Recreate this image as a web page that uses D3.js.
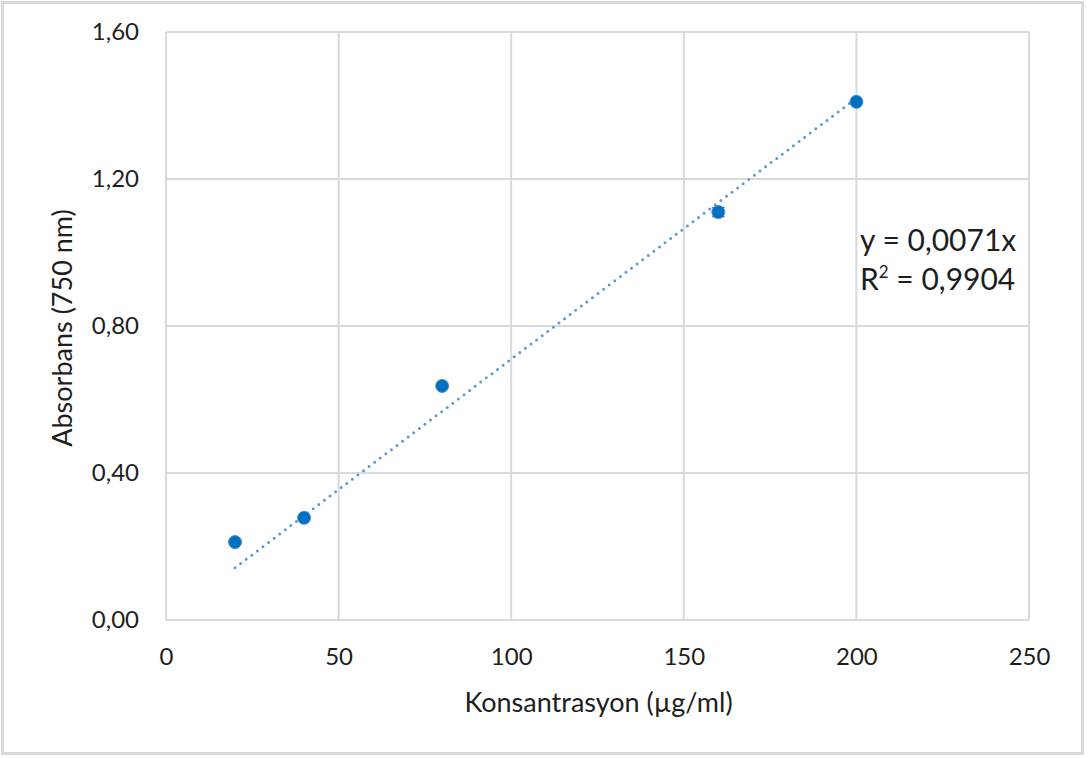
<!DOCTYPE html>
<html>
<head>
<meta charset="utf-8">
<script src="https://cdn.jsdelivr.net/npm/d3@7"></script>
<style>
  body { margin: 0; background: #fff; }
  text { font-family: Lato, "Open Sans", sans-serif; fill: #1e1e1e; }
</style>
</head>
<body>
<svg id="chart"></svg>
<script>
// concentration (x) and absorbance (y) readings
const concentrations = [20, 40, 80, 160, 200];
const absorbances = [0.212, 0.278, 0.637, 1.110, 1.410];
const errors = [0, 0, 0, 0.012, 0];
const slope = 0.0071;
const xTicks = [0, 50, 100, 150, 200, 250];
const yTicks = [0, 0.4, 0.8, 1.2, 1.6];
const equationLines = ['y = 0,0071x', 'R² = 0,9904'];

const width = 1088;
const height = 758;
const margin = { top: 32, right: 59, bottom: 138, left: 166 };
const innerW = width - margin.left - margin.right;
const innerH = height - margin.top - margin.bottom;

const svg = d3.select('#chart')
  .attr('width', width)
  .attr('height', height);

// outer chart border
svg.append('rect')
  .attr('x', 2.5).attr('y', 2.5)
  .attr('width', 1080).attr('height', 751)
  .attr('fill', '#fff')
  .attr('stroke', '#d9d9d9')
  .attr('stroke-width', 3);

const chart = svg.append('g')
  .attr('transform', `translate(${margin.left},${margin.top})`);

const x = d3.scaleLinear().domain([0, 250]).range([0, innerW]);
const y = d3.scaleLinear().domain([0, 1.6]).range([innerH, 0]);

const fmt = (d) => d3.format('.2f')(d).replace('.', ',');

// gridlines
chart.append('g')
  .selectAll('line')
  .data(xTicks)
  .join('line')
  .attr('x1', (d) => x(d)).attr('x2', (d) => x(d))
  .attr('y1', 0).attr('y2', innerH)
  .attr('stroke', '#d9d9d9')
  .attr('stroke-width', 2);

chart.append('g')
  .selectAll('line')
  .data(yTicks)
  .join('line')
  .attr('x1', 0).attr('x2', innerW)
  .attr('y1', (d) => y(d)).attr('y2', (d) => y(d))
  .attr('stroke', '#d9d9d9')
  .attr('stroke-width', 2);

// axes (labels only)
const xAxis = chart.append('g')
  .attr('transform', `translate(0,${innerH})`)
  .call(d3.axisBottom(x).tickValues(xTicks).tickSize(0).tickPadding(28));
xAxis.select('.domain').remove();
xAxis.selectAll('text').style('font-size', '24px');

const yAxis = chart.append('g')
  .call(d3.axisLeft(y).tickValues(yTicks).tickFormat(fmt).tickSize(0).tickPadding(27));
yAxis.select('.domain').remove();
yAxis.selectAll('text').style('font-size', '24px');

// axis titles
svg.append('text')
  .attr('x', margin.left + innerW / 2 + 1)
  .attr('y', 712)
  .attr('text-anchor', 'middle')
  .style('font-size', '27px')
  .text('Konsantrasyon (µg/ml)');

svg.append('text')
  .attr('transform', `translate(72,${margin.top + innerH / 2 + 2}) rotate(-90)`)
  .attr('text-anchor', 'middle')
  .style('font-size', '27px')
  .text('Absorbans (750 nm)');

// linear trendline through origin
const xMin = d3.min(concentrations);
const xMax = d3.max(concentrations);
chart.append('line')
  .attr('x1', x(xMin)).attr('y1', y(slope * xMin))
  .attr('x2', x(xMax)).attr('y2', y(slope * xMax))
  .attr('stroke', '#5b9bd5')
  .attr('stroke-width', 3)
  .attr('stroke-linecap', 'round')
  .attr('stroke-dasharray', '0 7');

// error bars
const pts = concentrations.map((c, i) => ({ c, a: absorbances[i], e: errors[i] }));
const eb = chart.append('g')
  .selectAll('g')
  .data(pts.filter((d) => d.e > 0))
  .join('g')
  .attr('stroke', '#404040')
  .attr('stroke-width', 1.5);
eb.append('line')
  .attr('x1', (d) => x(d.c)).attr('x2', (d) => x(d.c))
  .attr('y1', (d) => y(d.a - d.e)).attr('y2', (d) => y(d.a + d.e));
eb.append('line')
  .attr('x1', (d) => x(d.c) - 6).attr('x2', (d) => x(d.c) + 6)
  .attr('y1', (d) => y(d.a + d.e)).attr('y2', (d) => y(d.a + d.e));
eb.append('line')
  .attr('x1', (d) => x(d.c) - 6).attr('x2', (d) => x(d.c) + 6)
  .attr('y1', (d) => y(d.a - d.e)).attr('y2', (d) => y(d.a - d.e));

// data points
chart.append('g')
  .selectAll('circle')
  .data(pts)
  .join('circle')
  .attr('cx', (d) => x(d.c))
  .attr('cy', (d) => y(d.a))
  .attr('r', 6.5)
  .attr('fill', '#0070c0')
  .attr('stroke', '#4a90d0')
  .attr('stroke-width', 1);

// equation label
const eq = svg.append('text')
  .attr('x', 860)
  .attr('y', 251)
  .style('font-size', '30px');
eq.append('tspan').attr('x', 860).text(equationLines[0]);
const r2 = eq.append('tspan').attr('x', 860).attr('dy', 39);
r2.text('R');
r2.append('tspan').attr('dy', -12).style('font-size', '17px').text('2');
r2.append('tspan').attr('dy', 12).text(' = 0,9904');
</script>
</body>
</html>
